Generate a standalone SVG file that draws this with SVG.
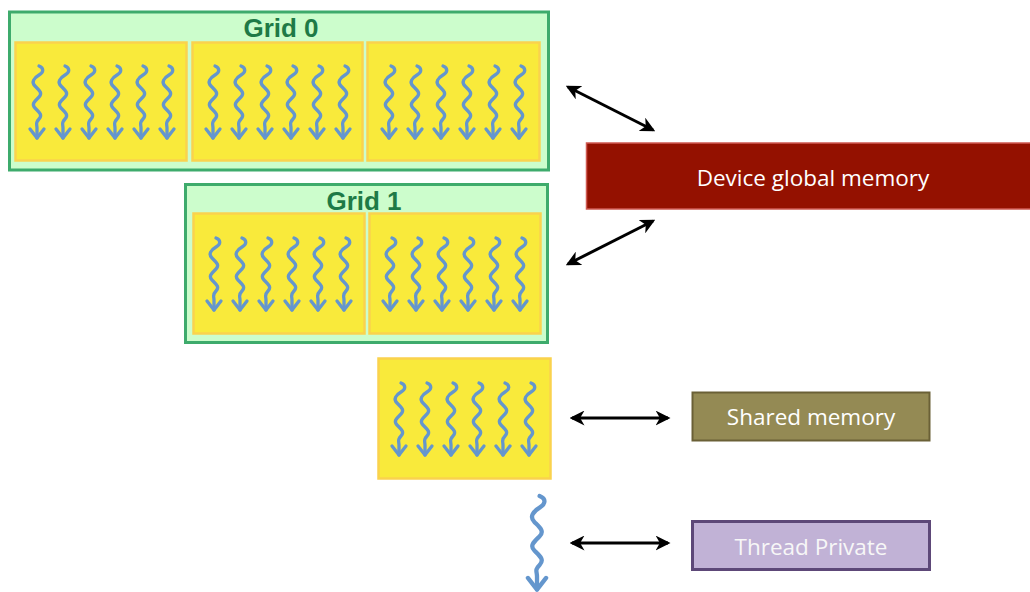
<svg xmlns="http://www.w3.org/2000/svg" xmlns:xlink="http://www.w3.org/1999/xlink" width="1030" height="592" viewBox="0 0 1030 592">
<style>
.grid{fill:#ccfdcc;stroke:#3eab6c;stroke-width:3}
.blk{fill:#f9ea3b;stroke:#fad24e;stroke-width:2.5}
.gt{font-family:"Liberation Sans",Arial,sans-serif;font-weight:bold;font-size:26px;fill:#1e7a46;text-anchor:middle}
.thr{fill:none;stroke:#6496cd;stroke-width:3.3;stroke-linecap:round;stroke-linejoin:round}
.conn{fill:none;stroke:#000;stroke-width:3}
.mt{font-family:"Open Sans","Noto Sans",sans-serif;font-size:22.5px;text-anchor:middle}
</style>
<defs>
<marker id="ah" viewBox="0 0 12 12" refX="10" refY="6" markerWidth="15" markerHeight="15" markerUnits="userSpaceOnUse" orient="auto-start-reverse">
<path d="M0,0 L12,6 L0,12 L3.5,6 z" fill="#000"/>
</marker>
<g id="thread">
<path class="thr" d="M2,0 C7,2 7,6 2,9 S-6,16 -2,20 S6,27 2,31 S-6,38 -2,42 S6,49 2,53 S0,58 0,62 L0,72"/>
<path class="thr" d="M-7,63 L0,72 L7,63"/>
</g>
<g id="t6">
<use xlink:href="#thread" x="22"/>
<use xlink:href="#thread" x="48"/>
<use xlink:href="#thread" x="74"/>
<use xlink:href="#thread" x="100"/>
<use xlink:href="#thread" x="126"/>
<use xlink:href="#thread" x="152"/>
</g>
</defs>
<rect width="1030" height="592" fill="#fff"/>

<g id="grid0">
<rect class="grid" x="9.5" y="12" width="539" height="158"/>
<text class="gt" x="281" y="37">Grid 0</text>
<rect class="blk" x="15.5" y="42.5" width="171" height="118"/>
<use xlink:href="#t6" x="15" y="66"/>
<rect class="blk" x="192.5" y="42.5" width="170" height="118"/>
<use xlink:href="#t6" x="191" y="66"/>
<rect class="blk" x="367.5" y="42.5" width="172" height="118"/>
<use xlink:href="#t6" x="367" y="66"/>
</g>

<g id="grid1">
<rect class="grid" x="185.5" y="184.5" width="362" height="158"/>
<text class="gt" x="364" y="210">Grid 1</text>
<rect class="blk" x="193.5" y="213.5" width="171" height="120"/>
<use xlink:href="#t6" x="192" y="238"/>
<rect class="blk" x="369.5" y="213.5" width="171" height="120"/>
<use xlink:href="#t6" x="368" y="238"/>
</g>

<g id="block">
<rect class="blk" x="378.5" y="358.5" width="172" height="120"/>
<use xlink:href="#t6" x="377" y="383"/>
</g>

<g id="thread-single">
<use xlink:href="#thread" transform="translate(537,496) scale(1.3)"/>
</g>

<g id="global-mem">
<rect x="586.5" y="143" width="450" height="66" fill="#941100" stroke="#cf5a52" stroke-width="1.5"/>
<text class="mt" x="813" y="186" fill="#fff">Device global memory</text>
</g>

<g id="shared-mem">
<rect x="692.5" y="392.5" width="237" height="48" fill="#948a54" stroke="#6a6036" stroke-width="2"/>
<text class="mt" x="811" y="425" fill="#fff">Shared memory</text>
</g>

<g id="thread-private">
<rect x="692.5" y="521.5" width="237" height="48" fill="#c1b2d6" stroke="#5d4878" stroke-width="3"/>
<text class="mt" x="811" y="555" fill="#f7f7f7">Thread Private</text>
</g>

<g id="connectors">
<line class="conn" x1="568" y1="87" x2="653" y2="130" marker-start="url(#ah)" marker-end="url(#ah)"/>
<line class="conn" x1="568" y1="264" x2="653" y2="221" marker-start="url(#ah)" marker-end="url(#ah)"/>
<line class="conn" x1="572" y1="418" x2="668" y2="418" marker-start="url(#ah)" marker-end="url(#ah)"/>
<line class="conn" x1="572" y1="543" x2="668" y2="543" marker-start="url(#ah)" marker-end="url(#ah)"/>
</g>
</svg>
